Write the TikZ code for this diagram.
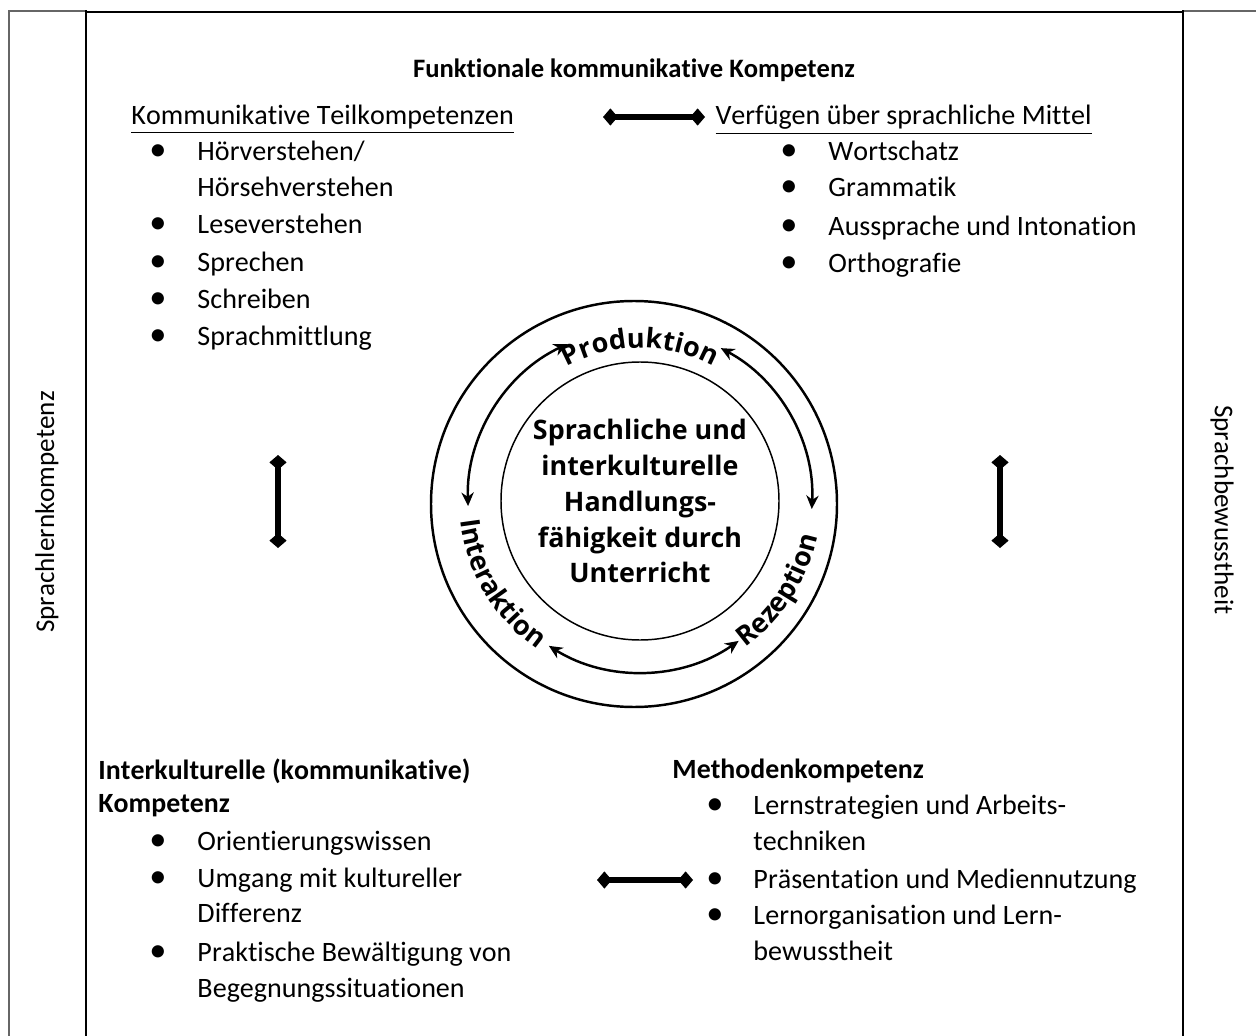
\documentclass[tikz,border=0pt]{standalone}
\usepackage{fontspec}
\setmainfont{Carlito}[Ligatures={NoCommon}, Kerning=Off]
\newfontfamily\cyclefont{Open Sans}
\usepackage{tikz}
\usetikzlibrary{arrows.meta, positioning, decorations.text, calc}

\begin{document}
\begin{tikzpicture}[
  x=0.406pt,
  y=0.406pt,
  font=\fontsize{11.4pt}{15pt}\selectfont,
  plaintext/.style={
    inner sep=0pt,
    anchor=base west
  },
  headtext/.style={
    inner sep=0pt,
    anchor=base west,
    font=\fontsize{11.3pt}{15pt}\selectfont\bfseries
  },
  bulletmark/.style={
    inner sep=0pt,
    anchor=base,
    font=\fontsize{14pt}{15pt}\selectfont
  },
  sidetext/.style={
    inner sep=0pt,
    font=\fontsize{11pt}{15pt}\selectfont
  },
  tablerule/.style={
    line width=1.2pt,
    draw=black
  },
  outerrule/.style={
    line width=0.5pt,
    draw=black!60
  },
  linkarrow/.style={
    {Diamond[length=6pt,width=7pt]}-{Diamond[length=6pt,width=7pt]},
    line width=2.8pt,
    draw=black
  },
  cyclearrow/.style={
    {Stealth[length=5.5pt,width=5pt]}-{Stealth[length=5.5pt,width=5pt]},
    line width=1pt,
    draw=black
  },
  ringlabel/.style={
    decorate,
    decoration={text along path, text align=center, text={#1}}
  }
]

\useasboundingbox (0,0) rectangle (1256,1035);
\clip (0,0) rectangle (1256,1035);

% table frame
\draw[outerrule] (9,-20) -- (9,1024) -- (86,1024);
\draw[outerrule] (1183,1024) -- (1270,1024);
\draw[tablerule] (86,1023) -- (1183,1023);
\draw[tablerule] (86,-20) -- (86,1024.5);
\draw[tablerule] (1183,-20) -- (1183,1024.5);

% side columns
\node[sidetext, rotate=90] (lernside) at (47,523) {Sprachlernkompetenz};
\node[sidetext, rotate=-90] (bewusstside) at (1222,525) {Sprachbewusstheit};

% upper part
\node[headtext, anchor=base, font=\fontsize{10.8pt}{15pt}\selectfont\bfseries] (title) at (634,957) {Funktionale kommunikative Kompetenz};
\node[plaintext] (teilhead) at (131,910) {\underline{Kommunikative Teilkompetenzen}};
\node[plaintext] (mittelhead) at (715,910) {\underline{Verfügen über sprachliche Mittel}};

\foreach \yy in {874,801,763,726,689}
  \node[bulletmark, name=lb\yy] at (158,\yy) {•};
\node[plaintext] (hoer) at (197,874) {Hörverstehen/};
\node[plaintext] (hoerseh) at (197,838) {Hörsehverstehen};
\node[plaintext] (lesen) at (197,801) {Leseverstehen};
\node[plaintext] (sprechen) at (197,763) {Sprechen};
\node[plaintext] (schreiben) at (197,726) {Schreiben};
\node[plaintext] (mittlung) at (197,689) {Sprachmittlung};

\foreach \yy in {874,838,799,762}
  \node[bulletmark, name=rb\yy] at (789,\yy) {•};
\node[plaintext] (wortschatz) at (828,874) {Wortschatz};
\node[plaintext] (grammatik) at (828,838) {Grammatik};
\node[plaintext] (aussprache) at (828,799) {Aussprache und Intonation};
\node[plaintext] (ortho) at (828,762) {Orthografie};

% lower part
\node[headtext] (interhead) at (98,256) {Interkulturelle (kommunikative)};
\node[headtext] (interhead2) at (98,223) {Kompetenz};
\foreach \yy in {185,148,74}
  \node[bulletmark, name=ib\yy] at (158,\yy) {•};
\node[plaintext] (orient) at (197,185) {Orientierungswissen};
\node[plaintext] (umgang) at (197,148) {Umgang mit kultureller};
\node[plaintext] (umgang2) at (197,113) {Differenz};
\node[plaintext] (praxis) at (197,74) {Praktische Bewältigung von};
\node[plaintext] (praxis2) at (197,38) {Begegnungssituationen};

\node[headtext] (methodhead) at (672,257) {Methodenkompetenz};
\foreach \yy in {221,147,111}
  \node[bulletmark, name=mb\yy] at (715,\yy) {•};
\node[plaintext] (strategie) at (753,221) {Lernstrategien und Arbeits-};
\node[plaintext] (strategie2) at (753,185) {techniken};
\node[plaintext] (praesent) at (753,147) {Präsentation und Mediennutzung};
\node[plaintext] (organis) at (753,111) {Lernorganisation und Lern-};
\node[plaintext] (organis2) at (753,75) {bewusstheit};

% centre circle
\coordinate (hub) at (640,535);
\draw[line width=1pt] (634,531) circle[radius=203];
\draw[line width=0.6pt] (640,534) circle[radius=139];
\node[align=center, inner sep=0pt,
  font=\cyclefont\bfseries\fontsize{10.9pt}{14.6pt}\selectfont] (core) at (640,534)
  {Sprachliche und\\interkulturelle\\Handlungs-\\fähigkeit durch\\Unterricht};

\draw[cyclearrow] (hub) ++(182:172) arc[start angle=182, end angle=115, radius=172];
\draw[cyclearrow] (hub) ++(62:172) arc[start angle=62, end angle=-3, radius=172];
\draw[cyclearrow] (hub) ++(238:172) arc[start angle=238, end angle=305, radius=172];

\path[ringlabel={|\cyclefont\bfseries\fontsize{11pt}{11pt}\selectfont|Produktion}]
  (hub) ++(130:152) arc[start angle=130, end angle=50, radius=152];
\path[ringlabel={|\cyclefont\bfseries\fontsize{11pt}{11pt}\selectfont|Interaktion}]
  (hub) ++(166:181) arc[start angle=166, end angle=256, radius=181];
\path[ringlabel={|\cyclefont\bfseries\fontsize{11pt}{11pt}\selectfont|Rezeption}]
  (hub) ++(284:181) arc[start angle=284, end angle=370, radius=181];

% links
\coordinate (linkTl) at (603,918);
\coordinate (linkTr) at (705,918);
\coordinate (linkLt) at (278,580);
\coordinate (linkLb) at (278,487);
\coordinate (linkRt) at (1000,580);
\coordinate (linkRb) at (1000,487);
\coordinate (linkBl) at (597,155);
\coordinate (linkBr) at (693,155);

\draw[linkarrow] (linkTl) -- (linkTr);
\draw[linkarrow] (linkLt) -- (linkLb);
\draw[linkarrow] (linkRt) -- (linkRb);
\draw[linkarrow] (linkBl) -- (linkBr);

\end{tikzpicture}
\end{document}
